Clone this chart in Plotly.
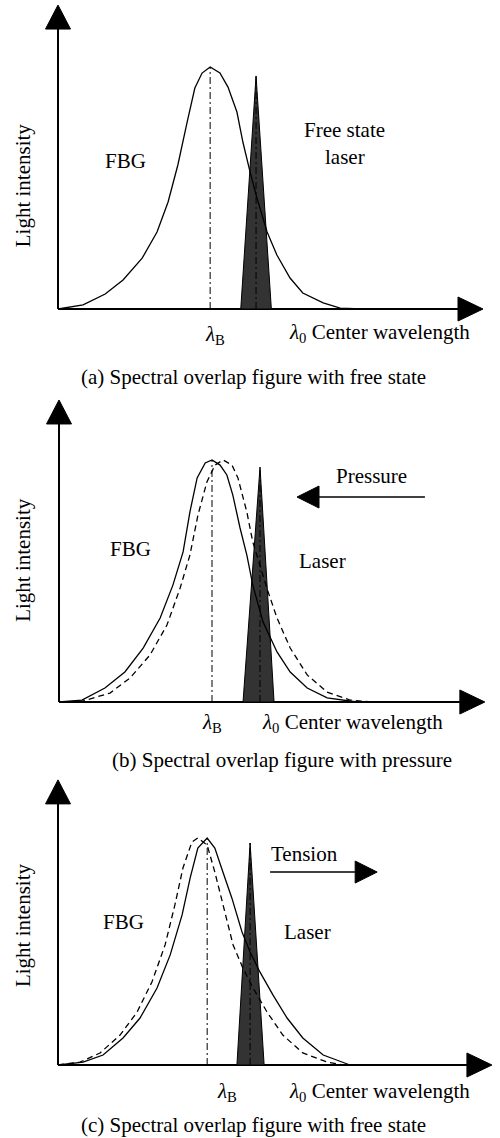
import plotly.graph_objects as go

W, H = 500, 1138
PXU = 4.25  # pixels per wavelength unit

# ---------------- data (wavelength units, normalized intensity) ----------------
# Panel (a): free state
fbg_a_x = [0, 5.9, 11.1, 15.3, 19.8, 23.3, 25.9, 28.2, 30.4, 32.2, 33.9, 35.8,
           38.1, 40.0, 42.1, 43.5, 45.2, 46.8, 49.2, 51.5, 54.6, 57.6, 62.4, 66.4, 71.5]
fbg_a_y = [0, 0.017, 0.062, 0.12, 0.21, 0.318, 0.442, 0.595, 0.773, 0.913, 0.975, 1.0,
           0.975, 0.917, 0.814, 0.69, 0.566, 0.459, 0.318, 0.223, 0.128, 0.066, 0.025, 0.004, 0.0]
laser_a_x = [43.0, 46.6, 50.2]
laser_a_y = [0, 0.963, 0]
lamB_a = 35.8

# Panel (b): pressure (solid = original, dashed = shifted)
fbg_b_x = [0, 5.4, 10.8, 15.5, 19.8, 23.8, 26.8, 29.2, 30.8, 32.5, 34.4, 36.0,
           37.9, 39.5, 40.9, 42.6, 44.2, 45.6, 48.0, 51.3, 54.4, 58.4, 63.1, 70.1]
fbg_b_y = [0, 0.008, 0.058, 0.124, 0.223, 0.347, 0.483, 0.62, 0.785, 0.926, 0.988, 1.0,
           0.979, 0.938, 0.855, 0.719, 0.607, 0.483, 0.331, 0.207, 0.124, 0.058, 0.017, 0]
fbg_b2_x = [0, 5.6, 12.0, 16.7, 21.4, 25.4, 28.5, 30.8, 32.7, 34.8, 36.7, 38.6,
            40.7, 42.1, 44.2, 45.6, 48.9, 51.3, 54.4, 58.4, 63.1, 68.5, 73.6]
fbg_b2_y = [0, 0.004, 0.037, 0.099, 0.194, 0.318, 0.471, 0.607, 0.773, 0.909, 0.979, 1.0,
            0.979, 0.926, 0.785, 0.661, 0.471, 0.347, 0.223, 0.112, 0.041, 0.008, 0]
laser_b_x = [43.3, 47.3, 50.6]
laser_b_y = [0, 0.971, 0]
lamB_b = 36.0

# Panel (c): tension (solid = original, dashed = shifted)
fbg_c_x = [0, 5.9, 10.6, 15.3, 19.3, 23.3, 26.4, 29.2, 31.1, 32.9, 35.1, 36.9,
           38.8, 40.9, 43.3, 45.2, 47.5, 50.6, 53.9, 57.6, 62.4, 67.1, 68.7]
fbg_c_y = [0, 0.013, 0.044, 0.119, 0.207, 0.339, 0.485, 0.661, 0.824, 0.956, 1.0, 0.956,
           0.85, 0.736, 0.586, 0.498, 0.41, 0.308, 0.207, 0.119, 0.044, 0.009, 0]
fbg_c2_x = [0, 5.2, 9.9, 14.6, 18.6, 22.1, 25.2, 27.5, 29.4, 31.5, 32.9, 35.1,
            36.9, 38.8, 41.2, 43.5, 45.9, 49.2, 52.9, 57.6, 63.3, 67.1]
fbg_c2_y = [0, 0.013, 0.053, 0.132, 0.233, 0.366, 0.529, 0.705, 0.868, 0.982, 1.0, 0.969,
            0.85, 0.705, 0.529, 0.427, 0.339, 0.233, 0.132, 0.053, 0.013, 0]
laser_c_x = [42.1, 45.2, 48.5]
laser_c_y = [0, 0.978, 0]
lamB_c = 35.1

captions = ["(a) Spectral overlap figure with free state",
            "(b) Spectral overlap figure with pressure",
            "(c) Spectral overlap figure with free state"]
y_title = "Light intensity"
x_title = "<i>λ</i><sub>0</sub> Center wavelength"
lamB_label = "<i>λ</i><sub>B</sub>"

# ---------------- layout geometry ----------------
FONT = "Liberation Serif, Times New Roman, serif"
FS = 21

panels = [
    dict(x0=58, y0=309, s=242, band=(0, 390), xtip=100.0, ytip=1.256,
         curves=[(fbg_a_x, fbg_a_y, "solid")], laser=(laser_a_x, laser_a_y), lamB=lamB_a,
         lamB_lbl=(36.9, -0.107), x_lbl=(53.9, -0.099), cap=(46.1, -0.281), ylbl=(-8.2, 0.512),
         texts=[("FBG", 15.8, 0.61), ("Free state", 67.5, 0.74), ("laser", 67.5, 0.628)],
         arrow=None),
    dict(x0=59, y0=702, s=242, band=(390, 770), xtip=100.2, ytip=1.248,
         curves=[(fbg_b_x, fbg_b_y, "solid"), (fbg_b2_x, fbg_b2_y, "6px,4px")],
         laser=(laser_b_x, laser_b_y), lamB=lamB_b,
         lamB_lbl=(36.0, -0.087), x_lbl=(47.3, -0.087), cap=(52.5, -0.24), ylbl=(-8.5, 0.587),
         texts=[("FBG", 16.9, 0.632), ("Pressure", 73.6, 0.934), ("Laser", 62.1, 0.583)],
         arrow=(86.1, 56.0, 0.847)),
    dict(x0=58, y0=1065, s=227, band=(770, 1138), xtip=102.1, ytip=1.256,
         curves=[(fbg_c_x, fbg_c_y, "solid"), (fbg_c2_x, fbg_c2_y, "6px,4px")],
         laser=(laser_c_x, laser_c_y), lamB=lamB_c,
         lamB_lbl=(39.8, -0.119), x_lbl=(53.9, -0.119), cap=(45.9, -0.264), ylbl=(-8.2, 0.617),
         texts=[("FBG", 15.5, 0.63), ("Tension", 58.1, 0.93), ("Laser", 58.8, 0.586)],
         arrow=(49.9, 75.1, 0.85)),
]

fig = go.Figure()
annotations = []
DASHDOT = "7px,3px,2px,3px"

for i, p in enumerate(panels):
    k = "" if i == 0 else str(i + 1)
    xa, ya = "x" + k, "y" + k
    S = p["s"]
    top, bot = p["band"]
    fig.layout["xaxis" + k] = dict(domain=[0, 1], range=[-p["x0"] / PXU, (W - p["x0"]) / PXU],
                                   visible=False, fixedrange=True)
    fig.layout["yaxis" + k] = dict(domain=[1 - bot / H, 1 - top / H],
                                   range=[(p["y0"] - bot) / S, (p["y0"] - top) / S],
                                   visible=False, fixedrange=True)
    hl_x = 25 / PXU   # arrowhead length along x (units)
    hw_y = 12 / S      # half width in y-units
    hl_y = 24 / S
    hw_x = 12.5 / PXU
    # axes lines
    fig.add_trace(go.Scatter(x=[0, p["xtip"] - hl_x], y=[0, 0], mode="lines",
                             line=dict(color="black", width=2), xaxis=xa, yaxis=ya,
                             hoverinfo="skip", showlegend=False))
    fig.add_trace(go.Scatter(x=[0, 0], y=[0, p["ytip"] - hl_y], mode="lines",
                             line=dict(color="black", width=2), xaxis=xa, yaxis=ya,
                             hoverinfo="skip", showlegend=False))
    # arrowheads
    fig.add_trace(go.Scatter(x=[p["xtip"] - hl_x, p["xtip"], p["xtip"] - hl_x, p["xtip"] - hl_x],
                             y=[hw_y, 0, -hw_y, hw_y], mode="lines", fill="toself",
                             fillcolor="black", line=dict(color="black", width=1),
                             xaxis=xa, yaxis=ya, hoverinfo="skip", showlegend=False))
    fig.add_trace(go.Scatter(x=[-hw_x, 0, hw_x, -hw_x],
                             y=[p["ytip"] - hl_y, p["ytip"], p["ytip"] - hl_y, p["ytip"] - hl_y],
                             mode="lines", fill="toself", fillcolor="black",
                             line=dict(color="black", width=1),
                             xaxis=xa, yaxis=ya, hoverinfo="skip", showlegend=False))
    # laser
    lx, ly = p["laser"]
    fig.add_trace(go.Scatter(x=lx + [lx[0]], y=ly + [ly[0]], mode="lines", fill="toself",
                             fillcolor="#333333", line=dict(color="black", width=1),
                             xaxis=xa, yaxis=ya, hoverinfo="skip", showlegend=False))
    # curves
    for cx, cy, dash in p["curves"]:
        fig.add_trace(go.Scatter(x=cx, y=cy, mode="lines",
                                 line=dict(color="black", width=1.3, dash=dash),
                                 xaxis=xa, yaxis=ya, hoverinfo="skip", showlegend=False))
    # dash-dot center lines
    fig.add_trace(go.Scatter(x=[p["lamB"], p["lamB"]], y=[0, 1], mode="lines",
                             line=dict(color="black", width=1, dash=DASHDOT),
                             xaxis=xa, yaxis=ya, hoverinfo="skip", showlegend=False))
    fig.add_trace(go.Scatter(x=[lx[1], lx[1]], y=[0, ly[1]], mode="lines",
                             line=dict(color="black", width=1, dash=DASHDOT),
                             xaxis=xa, yaxis=ya, hoverinfo="skip", showlegend=False))
    # direction arrow
    if p["arrow"] is not None:
        tail, tip, av = p["arrow"]
        d = 1 if tip > tail else -1
        hl = 22 / PXU
        hw = 11 / S
        base = tip - d * hl
        fig.add_trace(go.Scatter(x=[tail, base], y=[av, av], mode="lines",
                                 line=dict(color="black", width=1.5),
                                 xaxis=xa, yaxis=ya, hoverinfo="skip", showlegend=False))
        fig.add_trace(go.Scatter(x=[base, tip, base, base], y=[av + hw, av, av - hw, av + hw],
                                 mode="lines", fill="toself", fillcolor="black",
                                 line=dict(color="black", width=1),
                                 xaxis=xa, yaxis=ya, hoverinfo="skip", showlegend=False))
    font = dict(family=FONT, size=FS, color="black")
    for t, tx, ty in p["texts"]:
        annotations.append(dict(text=t, x=tx, y=ty, xref=xa, yref=ya, showarrow=False,
                                xanchor="center", yanchor="middle", font=font))
    annotations.append(dict(text=lamB_label, x=p["lamB_lbl"][0], y=p["lamB_lbl"][1], xref=xa,
                            yref=ya, showarrow=False, xanchor="center", yanchor="middle", font=font))
    annotations.append(dict(text=x_title, x=p["x_lbl"][0], y=p["x_lbl"][1], xref=xa,
                            yref=ya, showarrow=False, xanchor="left", yanchor="middle", font=font))
    annotations.append(dict(text=captions[i], x=p["cap"][0], y=p["cap"][1], xref=xa,
                            yref=ya, showarrow=False, xanchor="center", yanchor="middle", font=font))
    annotations.append(dict(text=y_title, x=p["ylbl"][0], y=p["ylbl"][1], xref=xa,
                            yref=ya, showarrow=False, xanchor="center", yanchor="middle",
                            textangle=-90, font=font))

fig.update_layout(width=W, height=H, margin=dict(l=0, r=0, t=0, b=0),
                  paper_bgcolor="white", plot_bgcolor="rgba(0,0,0,0)",
                  annotations=annotations, showlegend=False)
fig.write_html("out.html", config={"displayModeBar": False},
               post_script="document.body.style.margin='0';")
